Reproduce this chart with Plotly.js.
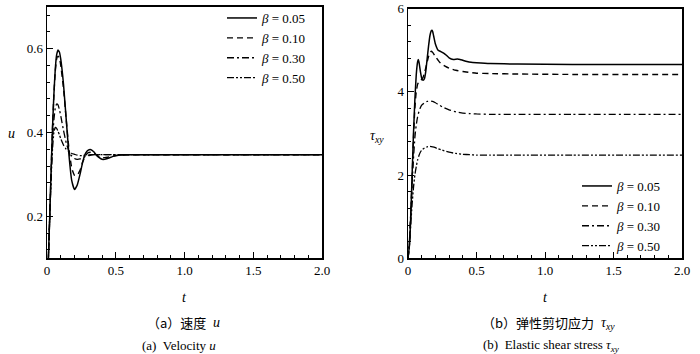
<!DOCTYPE html>
<html>
<head>
<meta charset="utf-8">
<script src="https://cdn.plot.ly/plotly-3.0.1.min.js"></script>
<style>html,body{margin:0;padding:0;background:#fff;}#chart{width:700px;height:354px;}</style>
</head>
<body>
<div id="chart"></div>
<script>
// ---------- data ----------
const seriesNames = ['<i>β</i> = 0.05', '<i>β</i> = 0.10', '<i>β</i> = 0.30', '<i>β</i> = 0.50'];

// (a) velocity u
const tU = [0,0.01,0.02,0.03,0.04,0.05,0.06,0.07,0.08,0.09,0.10,0.12,0.14,0.16,0.18,0.20,0.22,0.24,0.26,0.28,0.30,0.32,0.34,0.36,0.38,0.40,0.42,0.44,0.48,0.52,0.60,0.80,1.20,1.60,2.00];
const u005 = [0,0.10,0.20,0.31,0.41,0.49,0.55,0.585,0.597,0.592,0.575,0.515,0.43,0.345,0.285,0.264,0.275,0.30,0.33,0.35,0.358,0.359,0.354,0.346,0.34,0.336,0.336,0.338,0.343,0.346,0.347,0.347,0.347,0.347,0.347];
const u010 = [0,0.10,0.20,0.31,0.41,0.49,0.545,0.575,0.582,0.578,0.56,0.505,0.43,0.36,0.315,0.298,0.298,0.31,0.33,0.345,0.352,0.353,0.35,0.346,0.342,0.34,0.34,0.341,0.344,0.346,0.347,0.347,0.347,0.347,0.347];
const u030 = [0,0.10,0.20,0.30,0.38,0.43,0.458,0.468,0.466,0.455,0.44,0.405,0.375,0.355,0.344,0.338,0.336,0.337,0.34,0.343,0.345,0.346,0.347,0.347,0.347,0.347,0.347,0.347,0.347,0.347,0.347,0.347,0.347,0.347,0.347];
const u050 = [0,0.10,0.20,0.29,0.36,0.40,0.412,0.41,0.403,0.395,0.385,0.37,0.36,0.355,0.35,0.348,0.346,0.345,0.345,0.346,0.346,0.347,0.347,0.347,0.347,0.347,0.347,0.347,0.347,0.347,0.347,0.347,0.347,0.347,0.347];

// (b) elastic shear stress tau_xy
const tTau005 = [0,0.01,0.02,0.03,0.04,0.05,0.06,0.07,0.075,0.08,0.09,0.10,0.11,0.12,0.13,0.14,0.15,0.16,0.17,0.175,0.18,0.19,0.20,0.22,0.24,0.26,0.28,0.30,0.33,0.36,0.38,0.40,0.43,0.46,0.50,0.60,0.80,1.20,1.60,2.00];
const tau005 = [0,0.3,1.0,2.0,3.0,3.8,4.4,4.72,4.78,4.72,4.5,4.33,4.28,4.32,4.5,4.8,5.1,5.35,5.47,5.48,5.45,5.3,5.15,5.0,4.97,4.93,4.88,4.82,4.78,4.79,4.78,4.76,4.73,4.71,4.70,4.68,4.67,4.66,4.66,4.66];
const tTau010 = [0,0.01,0.02,0.03,0.04,0.05,0.06,0.07,0.08,0.09,0.10,0.11,0.12,0.13,0.14,0.15,0.16,0.17,0.18,0.20,0.22,0.24,0.27,0.30,0.35,0.40,0.45,0.50,0.60,0.80,1.20,1.60,2.00];
const tau010 = [0,0.3,1.0,1.9,2.9,3.6,4.0,4.18,4.25,4.28,4.3,4.35,4.45,4.58,4.72,4.85,4.94,4.98,4.95,4.85,4.76,4.68,4.62,4.57,4.52,4.49,4.47,4.45,4.44,4.43,4.42,4.42,4.42];
const tTau030 = [0,0.01,0.02,0.03,0.04,0.05,0.06,0.07,0.08,0.09,0.10,0.12,0.14,0.16,0.18,0.20,0.22,0.25,0.30,0.35,0.40,0.45,0.50,0.60,0.80,1.20,1.60,2.00];
const tau030 = [0,0.4,1.1,1.8,2.4,2.9,3.2,3.4,3.53,3.62,3.68,3.74,3.77,3.78,3.77,3.74,3.7,3.64,3.57,3.52,3.49,3.48,3.47,3.46,3.46,3.46,3.46,3.46];
const tTau050 = [0,0.01,0.02,0.03,0.04,0.05,0.06,0.07,0.08,0.09,0.10,0.12,0.14,0.16,0.18,0.20,0.22,0.25,0.30,0.35,0.40,0.45,0.50,0.60,0.80,1.20,1.60,2.00];
const tau050 = [0,0.3,0.8,1.3,1.7,2.0,2.2,2.36,2.47,2.55,2.6,2.65,2.68,2.69,2.68,2.66,2.63,2.6,2.55,2.52,2.5,2.49,2.48,2.48,2.48,2.48,2.48,2.48];

// tick labels
const xTickVals = [0, 0.5, 1.0, 1.5, 2.0];
const xTickText = ['0', '0.5', '1.0', '1.5', '2.0'];
const uTickVals = [0.2, 0.4, 0.6];
const uTickText = ['0.2', '0.4', '0.6'];
const tauTickVals = [0, 2, 4, 6];
const tauTickText = ['0', '2', '4', '6'];

// ---------- styling ----------
const FONT = 'Liberation Serif';
const CJK = 'Noto Sans CJK SC';
const dashes = ['solid', '6px,4px', '7px,3px,2px,3px', '7px,2px,2px,2px,2px,2px'];
const widths = [1.5, 1.4, 1.3, 1.3];

const uSeries = [u005, u010, u030, u050];
const tauT = [tTau005, tTau010, tTau030, tTau050];
const tauSeries = [tau005, tau010, tau030, tau050];

const traces = [];
uSeries.forEach((ys, i) => {
  traces.push({
    x: tU, y: ys, xaxis: 'x', yaxis: 'y', legend: 'legend',
    type: 'scatter', mode: 'lines', name: seriesNames[i],
    line: {color: '#000', width: widths[i], dash: dashes[i], shape: 'spline', smoothing: 0.4}
  });
});
tauSeries.forEach((ys, i) => {
  traces.push({
    x: tauT[i], y: ys, xaxis: 'x2', yaxis: 'y2', legend: 'legend2',
    type: 'scatter', mode: 'lines', name: seriesNames[i],
    line: {color: '#000', width: widths[i], dash: dashes[i], shape: 'spline', smoothing: 0.4}
  });
});

function xAxis(domain, anchor) {
  return {
    domain: domain, anchor: anchor, range: [0, 2],
    tickmode: 'array', tickvals: xTickVals, ticktext: xTickText,
    ticks: 'inside', ticklen: 6, tickwidth: 1, tickcolor: '#000',
    minor: {tickmode: 'linear', tick0: 0, dtick: 0.1, ticks: 'inside', ticklen: 3, tickcolor: '#000', tickwidth: 1},
    showline: true, mirror: true, linecolor: '#000', linewidth: 1.5,
    showgrid: false, zeroline: false, tickfont: {family: FONT, size: 13, color: '#000'}
  };
}
function yAxis(domain, anchor, range, vals, text, minorD) {
  return {
    domain: domain, anchor: anchor, range: range,
    tickmode: 'array', tickvals: vals, ticktext: text,
    ticks: 'inside', ticklen: 6, tickwidth: 1, tickcolor: '#000',
    minor: {tickmode: 'linear', tick0: 0, dtick: minorD, ticks: 'inside', ticklen: 3, tickcolor: '#000', tickwidth: 1},
    showline: true, mirror: true, linecolor: '#000', linewidth: 1.5,
    showgrid: false, zeroline: false, tickfont: {family: FONT, size: 13, color: '#000'}
  };
}

const H = 354, W = 700;
const py = v => (H - v) / H;
const px = v => v / W;

function ann(text, x, y, size, fam, anchor) {
  return {text: text, x: px(x), y: py(y), xref: 'paper', yref: 'paper',
    xanchor: anchor || 'center', yanchor: 'middle', showarrow: false,
    font: {family: fam || FONT, size: size || 13, color: '#000'}};
}

const layout = {
  width: W, height: H,
  margin: {l: 0, r: 0, t: 0, b: 0},
  paper_bgcolor: '#fff', plot_bgcolor: '#fff',
  font: {family: FONT, size: 13, color: '#000'},
  showlegend: true,
  xaxis: xAxis([px(47), px(322)], 'y'),
  yaxis: yAxis([py(258.3), py(6.7)], 'x', [0.1, 0.7], uTickVals, uTickText, 0.04),
  xaxis2: xAxis([px(408), px(682)], 'y2'),
  yaxis2: yAxis([py(258.3), py(8.7)], 'x2', [0, 6], tauTickVals, tauTickText, 0.4),
  legend: {x: px(222), y: py(3), xanchor: 'left', yanchor: 'top', bgcolor: 'rgba(0,0,0,0)',
    borderwidth: 0, tracegroupgap: 0, font: {family: FONT, size: 13, color: '#000'}},
  legend2: {x: px(577), y: py(171), xanchor: 'left', yanchor: 'top', bgcolor: 'rgba(0,0,0,0)',
    borderwidth: 0, tracegroupgap: 0, font: {family: FONT, size: 13, color: '#000'}},
  annotations: [
    ann('<i>u</i>', 11, 133, 14),
    ann('<i>τ</i><sub><i>xy</i></sub>', 377, 136, 14),
    ann('<i>t</i>', 184.5, 297, 14),
    ann('<i>t</i>', 545, 297, 14),
    ann('（a）速度', 208, 322, 13, CJK, 'right'),
    ann('<i>u</i>', 211, 322, 14, FONT, 'left'),
    ann('(a)  Velocity <i>u</i>', 179, 345, 13),
    ann('（b）弹性剪切应力', 596, 322, 13, CJK, 'right'),
    ann('<i>τ</i><sub><i>xy</i></sub>', 599, 323, 14, FONT, 'left'),
    ann('(b)  Elastic shear stress <i>τ</i><sub><i>xy</i></sub>', 551, 345, 13)
  ]
};

Plotly.newPlot('chart', traces, layout, {displayModeBar: false, staticPlot: true});
</script>
</body>
</html>
